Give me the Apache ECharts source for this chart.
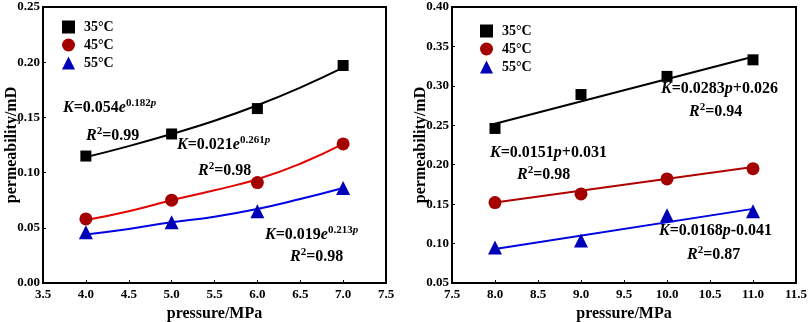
<!DOCTYPE html>
<html>
<head>
<meta charset="utf-8">
<script src="https://cdn.jsdelivr.net/npm/echarts@6/dist/echarts.min.js"></script>
<style>
  html, body { margin: 0; padding: 0; background: #fff; }
  #chart { width: 809px; height: 322px; }
</style>
</head>
<body>
<div id="chart"></div>
<script>
// 数据：左图（指数拟合）
const pressLeft = [4.0, 5.0, 6.0, 7.0]
const k35Left = [0.115, 0.135, 0.158, 0.197]
const k45Left = [0.058, 0.075, 0.091, 0.126]
const k55Left = [0.046, 0.055, 0.065, 0.086]

// 左图拟合曲线
const fitPressLeft = [4.0, 4.5, 5.0, 5.5, 6.0, 6.5, 7.0]
const fit35Left = [0.114, 0.124, 0.135, 0.147, 0.161, 0.177, 0.195]
const fit45Left = [0.057, 0.065, 0.075, 0.084, 0.094, 0.108, 0.126]
const fit55Left = [0.044, 0.049, 0.055, 0.060, 0.067, 0.076, 0.086]

// 数据：右图（线性拟合）
const pressRight = [8.0, 9.0, 10.0, 11.0]
const k35Right = [0.246, 0.289, 0.312, 0.333]
const k45Right = [0.152, 0.163, 0.182, 0.195]
const k55Right = [0.095, 0.104, 0.136, 0.141]

const fitPressRight = [8.0, 11.0]
const fit35Right = [0.252, 0.337]
const fit45Right = [0.152, 0.197]
const fit55Right = [0.093, 0.144]

const names = ['35°C', '45°C', '55°C']

const serif = '"Liberation Serif", "DejaVu Serif", serif'
const black = '#000000'
const darkRed = '#a50000'
const blue = '#0000b8'

const pairs = (xs, ys) => xs.map((x, i) => [x, ys[i]])

// 坐标轴公共样式
function xAxis(idx, min, max) {
  return {
    type: 'value', gridIndex: idx, min, max, interval: 0.5,
    name: 'pressure/MPa', nameLocation: 'middle', nameGap: 23,
    nameTextStyle: { fontFamily: serif, fontWeight: 'bold', fontSize: 16, color: '#000' },
    axisLine: { lineStyle: { color: '#000', width: 2 } },
    axisTick: { inside: true, length: 3, lineStyle: { color: '#000' } },
    axisLabel: { fontFamily: serif, fontWeight: 'bold', fontSize: 13, color: '#000', margin: 5,
      formatter: v => v.toFixed(1) },
    splitLine: { show: false }
  }
}
function yAxis(idx, min, max) {
  return {
    type: 'value', gridIndex: idx, min, max, interval: 0.05,
    name: 'permeability/mD', nameLocation: 'middle', nameGap: 23, nameMoveOverlap: false,
    nameTextStyle: { fontFamily: serif, fontWeight: 'bold', fontSize: 16, color: '#000' },
    axisLine: { show: true, lineStyle: { color: '#000', width: 2 } },
    axisTick: { show: true, inside: true, length: 3, lineStyle: { color: '#000' } },
    axisLabel: { fontFamily: serif, fontWeight: 'bold', fontSize: 13, color: '#000', margin: 3,
      formatter: v => v.toFixed(2) },
    splitLine: { show: false }
  }
}

function scatter(name, idx, xs, ys, symbol, color, size) {
  return {
    name, type: 'scatter', xAxisIndex: idx, yAxisIndex: idx,
    data: pairs(xs, ys), symbol, symbolSize: size,
    itemStyle: { color, opacity: 1 }, z: 5
  }
}
function fitLine(name, idx, xs, ys, color) {
  return {
    name, type: 'line', xAxisIndex: idx, yAxisIndex: idx,
    data: pairs(xs, ys), smooth: true, showSymbol: false,
    lineStyle: { color, width: 2 }, z: 3, silent: true
  }
}

// 公式文字
const rich = {
  i: { fontFamily: serif, fontWeight: 'bold', fontStyle: 'italic', fontSize: 16, color: '#000' },
  n: { fontFamily: serif, fontWeight: 'bold', fontSize: 16, color: '#000' },
  sup: { fontFamily: serif, fontWeight: 'bold', fontSize: 11, color: '#000', padding: [0, 0, 8, 0] },
  supi: { fontFamily: serif, fontWeight: 'bold', fontStyle: 'italic', fontSize: 11, color: '#000', padding: [0, 0, 8, 0] }
}
function label(x, y, text) {
  return { type: 'text', left: x, top: y, z: 10, style: { text, rich } }
}

const legendText = { fontFamily: serif, fontWeight: 'bold', fontSize: 14, color: '#000', padding: [0, 0, 0, 4] }

const option = {
  animation: false,
  backgroundColor: '#fff',
  grid: [
    { left: 43, top: 7, width: 343, height: 276, show: true, borderColor: '#000', borderWidth: 2,
      containLabel: false, outerBoundsMode: 'none' },
    { left: 452, top: 7, width: 344, height: 276, show: true, borderColor: '#000', borderWidth: 2,
      containLabel: false, outerBoundsMode: 'none' }
  ],
  legend: [
    { data: names, orient: 'vertical', left: 57, top: 15, itemGap: 4, itemWidth: 13, itemHeight: 13,
      textStyle: legendText },
    { data: names, orient: 'vertical', left: 475, top: 19, itemGap: 4, itemWidth: 13, itemHeight: 13,
      textStyle: legendText }
  ],
  xAxis: [xAxis(0, 3.5, 7.5), xAxis(1, 7.5, 11.5)],
  yAxis: [yAxis(0, 0, 0.25), yAxis(1, 0.05, 0.4)],
  series: [
    fitLine('fit35L', 0, fitPressLeft, fit35Left, black),
    fitLine('fit45L', 0, fitPressLeft, fit45Left, '#e60000'),
    fitLine('fit55L', 0, fitPressLeft, fit55Left, '#0000e6'),
    scatter(names[0], 0, pressLeft, k35Left, 'rect', black, 11),
    scatter(names[1], 0, pressLeft, k45Left, 'circle', darkRed, 13),
    scatter(names[2], 0, pressLeft, k55Left, 'triangle', blue, 14),
    fitLine('fit35R', 1, fitPressRight, fit35Right, black),
    fitLine('fit45R', 1, fitPressRight, fit45Right, '#b00000'),
    fitLine('fit55R', 1, fitPressRight, fit55Right, '#0000e0'),
    scatter(names[0], 1, pressRight, k35Right, 'rect', black, 11),
    scatter(names[1], 1, pressRight, k45Right, 'circle', darkRed, 13),
    scatter(names[2], 1, pressRight, k55Right, 'triangle', blue, 14)
  ],
  graphic: [
    label(63, 98, '{i|K}{n|=0.054}{i|e}{sup|0.182}{supi|p}'),
    label(86, 126, '{i|R}{sup|2}{n|=0.99}'),
    label(177, 135, '{i|K}{n|=0.021}{i|e}{sup|0.261}{supi|p}'),
    label(198, 161, '{i|R}{sup|2}{n|=0.98}'),
    label(265, 225, '{i|K}{n|=0.019}{i|e}{sup|0.213}{supi|p}'),
    label(290, 247, '{i|R}{sup|2}{n|=0.98}'),
    label(661, 81, '{i|K}{n|=0.0283}{i|p}{n|+0.026}'),
    label(689, 102, '{i|R}{sup|2}{n|=0.94}'),
    label(490, 145, '{i|K}{n|=0.0151}{i|p}{n|+0.031}'),
    label(517, 165, '{i|R}{sup|2}{n|=0.98}'),
    label(659, 223, '{i|K}{n|=0.0168}{i|p}{n|-0.041}'),
    label(687, 245, '{i|R}{sup|2}{n|=0.87}')
  ]
}

const chart = echarts.init(document.getElementById('chart'), null, { renderer: 'canvas' })
chart.setOption(option)
</script>
</body>
</html>
